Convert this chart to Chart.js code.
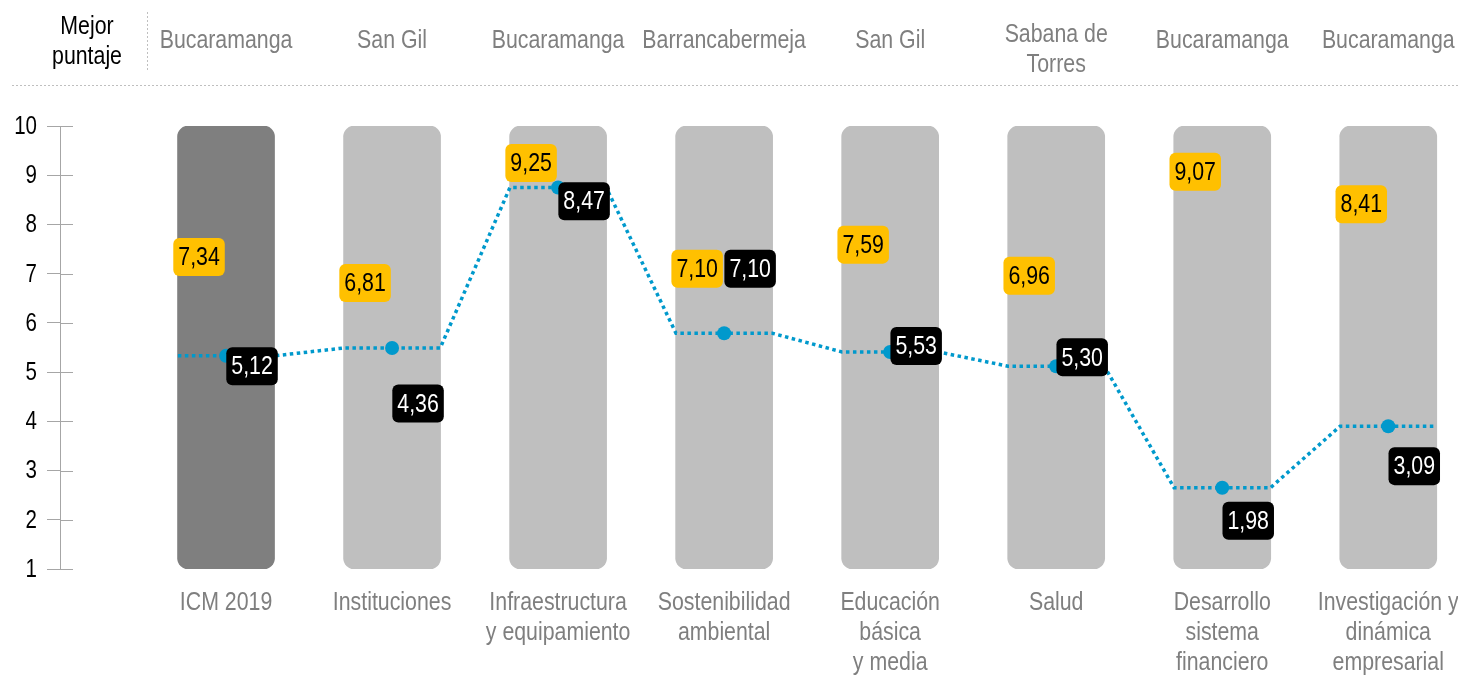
<!DOCTYPE html>
<html>
<head>
<meta charset="utf-8">
<script src="https://cdn.jsdelivr.net/npm/chart.js@4.4.0/dist/chart.umd.min.js"></script>
<style>
  html, body { margin: 0; padding: 0; background: #fff; }
  #contenedor { width: 1458px; height: 677px; }
</style>
</head>
<body>
<div id="contenedor"><canvas id="grafico"></canvas></div>
<script>
// datos del gráfico
const categorias = [
    ['ICM 2019'],
    ['Instituciones'],
    ['Infraestructura', 'y equipamiento'],
    ['Sostenibilidad', 'ambiental'],
    ['Educación', 'básica', 'y media'],
    ['Salud'],
    ['Desarrollo', 'sistema', 'financiero'],
    ['Investigación y', 'dinámica', 'empresarial']
];
const mejorMunicipio = [
    ['Bucaramanga'], ['San Gil'], ['Bucaramanga'], ['Barrancabermeja'],
    ['San Gil'], ['Sabana de', 'Torres'], ['Bucaramanga'], ['Bucaramanga']
];
const mejorPuntaje = [7.34, 6.81, 9.25, 7.10, 7.59, 6.96, 9.07, 8.41];
const puntajeMunicipio = [5.12, 4.36, 8.47, 7.10, 5.53, 5.30, 1.98, 3.09];
const promedio = [5.33, 5.49, 8.75, 5.79, 5.41, 5.12, 2.65, 3.90];
const rangoY = [1, 10];

// no hay Arial Narrow: se comprime Liberation Sans a lo ancho
const fuente = "'Liberation Sans', Arial, sans-serif";
const estrecho = 0.82;
const azul = '#0099cc';
const mitadBarra = 0.29;

function formato(v) {
    return v.toFixed(2).replace('.', ',');
}

function texto(ctx, t, x, y) {
    ctx.save();
    ctx.translate(x, y);
    ctx.scale(estrecho, 1);
    ctx.fillText(t, 0, 0);
    ctx.restore();
}

// la linea punteada cruza cada barra de borde a borde
const puntosLinea = [];
promedio.forEach((v, i) => {
    puntosLinea.push({ x: i - mitadBarra, y: v }, { x: i, y: v }, { x: i + mitadBarra, y: v });
});

function caja(ctx, cx, cy, t, fondo, color) {
    const w = ctx.measureText(t).width * estrecho + 10;
    const h = 38;
    ctx.fillStyle = fondo;
    ctx.beginPath();
    ctx.roundRect(cx - w / 2, cy - h / 2, w, h, 6);
    ctx.fill();
    ctx.fillStyle = color;
    texto(ctx, t, cx, cy + 1);
}

const etiquetas = {
    id: 'etiquetas',
    afterDatasetsDraw(chart) {
        const { ctx, scales: { x, y } } = chart;
        ctx.save();
        ctx.font = `26px ${fuente}`;
        ctx.textAlign = 'center';
        ctx.textBaseline = 'middle';
        mejorPuntaje.forEach((v, i) => {
            caja(ctx, x.getPixelForValue(i) - 27, y.getPixelForValue(v), formato(v), '#ffc000', '#000');
        });
        puntajeMunicipio.forEach((v, i) => {
            caja(ctx, x.getPixelForValue(i) + 26, y.getPixelForValue(v), formato(v), '#000', '#fff');
        });
        ctx.restore();
    }
};

const textos = {
    id: 'textos',
    afterDraw(chart) {
        const { ctx, scales: { x, y } } = chart;
        ctx.save();
        ctx.font = `26px ${fuente}`;
        ctx.textAlign = 'center';
        ctx.textBaseline = 'middle';
        ctx.fillStyle = '#000';
        texto(ctx, 'Mejor', 87, 27);
        texto(ctx, 'puntaje', 87, 57);

        ctx.fillStyle = '#7f7f7f';
        mejorMunicipio.forEach((lineas, i) => {
            const top = lineas.length > 1 ? 35 : 41;
            lineas.forEach((t, j) => texto(ctx, t, x.getPixelForValue(i), top + j * 30));
        });
        categorias.forEach((lineas, i) => {
            lineas.forEach((t, j) => texto(ctx, t, x.getPixelForValue(i), 603 + j * 30));
        });

        ctx.fillStyle = '#000';
        ctx.font = `25px ${fuente}`;
        ctx.textAlign = 'right';
        y.ticks.forEach(t => texto(ctx, String(t.value), 37, y.getPixelForValue(t.value) + 1));

        ctx.strokeStyle = '#bfbfbf';
        ctx.lineWidth = 1;
        ctx.setLineDash([2, 2]);
        ctx.beginPath();
        ctx.moveTo(147.5, 12);
        ctx.lineTo(147.5, 70);
        ctx.moveTo(12, 85.5);
        ctx.lineTo(1458, 85.5);
        ctx.stroke();
        ctx.setLineDash([]);

        // marcas del eje y hacia adentro
        ctx.strokeStyle = '#a6a6a6';
        ctx.beginPath();
        y.ticks.forEach(t => {
            const py = Math.round(y.getPixelForValue(t.value)) + 0.5;
            ctx.moveTo(y.right, py);
            ctx.lineTo(y.right + 13, py);
        });
        ctx.stroke();
        ctx.restore();
    }
};

const ctx = document.getElementById('grafico').getContext('2d');

new Chart(ctx, {
    data: {
        datasets: [
            {
                type: 'line',
                data: puntosLinea,
                borderColor: azul,
                borderWidth: 3.5,
                borderDash: [3.5, 3.5],
                pointRadius: (c) => c.dataIndex % 3 === 1 ? 7 : 0,
                pointBackgroundColor: azul,
                pointBorderWidth: 0,
                tension: 0,
                order: 0
            },
            {
                type: 'bar',
                data: categorias.map((c, i) => ({ x: i, y: rangoY })),
                backgroundColor: categorias.map((c, i) => i === 0 ? '#7f7f7f' : '#bfbfbf'),
                borderRadius: 11,
                borderSkipped: false,
                barThickness: 97,
                order: 1
            }
        ]
    },
    options: {
        responsive: true,
        maintainAspectRatio: false,
        animation: false,
        layout: { padding: { top: 126, right: 0, bottom: 100, left: 0 } },
        plugins: {
            legend: { display: false },
            tooltip: { enabled: false }
        },
        scales: {
            x: {
                type: 'linear',
                offset: false,
                min: -1,
                max: 7.42,
                grid: { display: false, offset: false },
                border: { display: false },
                afterBuildTicks: (s) => { s.ticks = categorias.map((c, i) => ({ value: i })); },
                ticks: { display: false }
            },
            y: {
                min: rangoY[0],
                max: rangoY[1],
                afterFit: (s) => { s.width = 60; },
                ticks: { stepSize: 1, display: false },
                grid: { drawOnChartArea: false, tickLength: 13, color: '#a6a6a6' },
                border: { color: '#a6a6a6' }
            }
        }
    },
    plugins: [etiquetas, textos]
});
</script>
</body>
</html>
